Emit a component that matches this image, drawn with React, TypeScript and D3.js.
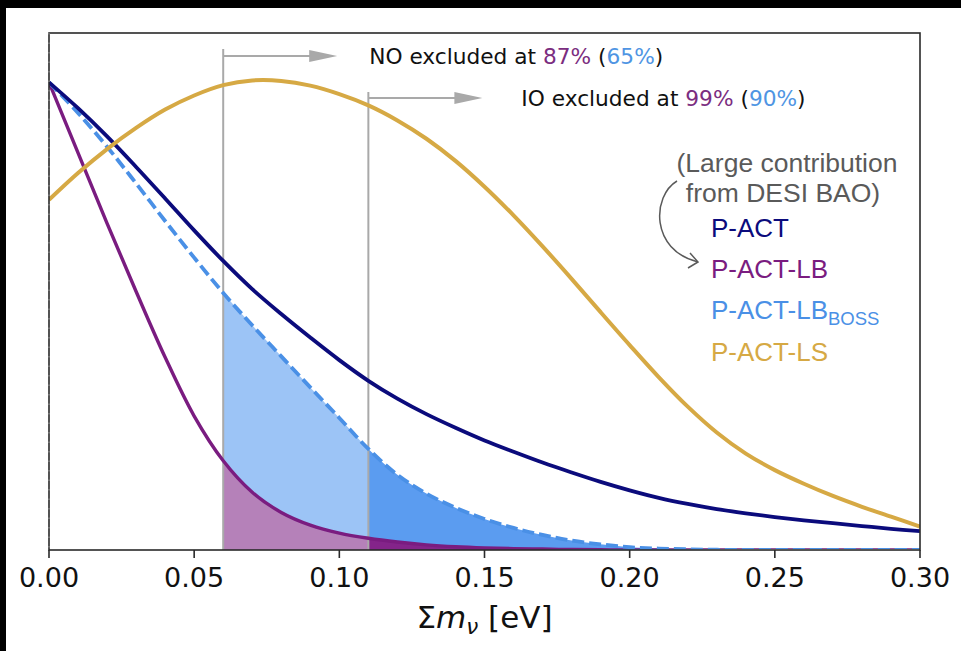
import React from 'react';
import * as d3 from 'd3';

const W = 961;
const H = 651;

// Posterior curves of the summed neutrino mass, sampled every 0.01 eV
const massEv = [
  0.0, 0.01, 0.02, 0.03, 0.04, 0.05, 0.06, 0.07, 0.08, 0.09, 0.1,
  0.11, 0.12, 0.13, 0.14, 0.15, 0.16, 0.17, 0.18, 0.19, 0.2,
  0.21, 0.22, 0.23, 0.24, 0.25, 0.26, 0.27, 0.28, 0.29, 0.3,
];
const pAct = [
  0.995, 0.94, 0.88, 0.815, 0.748, 0.68, 0.615, 0.555, 0.502, 0.452, 0.404,
  0.36, 0.322, 0.289, 0.26, 0.233, 0.209, 0.186, 0.165, 0.145, 0.127,
  0.111, 0.098, 0.087, 0.078, 0.07, 0.063, 0.057, 0.051, 0.045, 0.04,
];
const pActLb = [
  0.995, 0.845, 0.695, 0.55, 0.41, 0.285, 0.19, 0.123, 0.08, 0.053, 0.036,
  0.025, 0.017, 0.011, 0.007, 0.0045, 0.003, 0.002, 0.001, 0.0005, 0,
  0, 0, 0, 0, 0, 0, 0, 0, 0, 0,
];
const pActLbBoss = [
  0.995, 0.93, 0.858, 0.78, 0.7, 0.622, 0.547, 0.478, 0.412, 0.346, 0.281,
  0.215, 0.16, 0.12, 0.09, 0.066, 0.047, 0.032, 0.02, 0.012, 0.006,
  0.003, 0.0015, 0.0005, 0, 0, 0, 0, 0, 0, 0,
];
const pActLs = [
  0.745, 0.802, 0.853, 0.898, 0.937, 0.967, 0.989, 0.999, 0.998, 0.988, 0.97,
  0.946, 0.914, 0.875, 0.828, 0.773, 0.712, 0.646, 0.577, 0.506, 0.436,
  0.368, 0.305, 0.25, 0.205, 0.17, 0.141, 0.115, 0.092, 0.071, 0.05,
];

const xTicks = [0, 0.05, 0.1, 0.15, 0.2, 0.25, 0.3];

// Minimal summed masses of the normal and inverted orderings
const orderings = [
  { name: 'NO', mass: 0.06, lb: '87%', boss: '65%' },
  { name: 'IO', mass: 0.11, lb: '99%', boss: '90%' },
];

const legendNames = ['P-ACT', 'P-ACT-LB', 'P-ACT-LB', 'P-ACT-LS'];

const C = {
  navy: '#0b0b7c',
  purple: '#7a1c80',
  blue: '#4a90e6',
  gold: '#d6a944',
  lightBlue: '#9cc4f6',
  midBlue: '#5b9cf0',
  lightPurple: '#b581b9',
  darkPurple: '#84248a',
  grey: '#a9a9a9',
  note: '#5a5a5a',
  pctPurple: '#7b2d80',
  pctBlue: '#4f95e3',
};

const plot = { left: 49, right: 920, top: 33, bottom: 550 };

export default function App() {
  const x = d3.scaleLinear().domain([0, 0.3]).range([plot.left, plot.right]);
  const y = d3.scaleLinear().domain([0, 1.1]).range([plot.bottom, plot.top]);

  const pts = (vals: number[]) => massEv.map((m, i) => [m, vals[i]] as [number, number]);

  const curve = d3.curveCatmullRom.alpha(0.5);
  const line = d3
    .line<[number, number]>()
    .x((d) => x(d[0]))
    .y((d) => y(d[1]))
    .curve(curve);
  const area = d3
    .area<[number, number]>()
    .x((d) => x(d[0]))
    .y0(y(0))
    .y1((d) => y(d[1]))
    .curve(curve);

  const xNO = x(orderings[0].mass);
  const xIO = x(orderings[1].mass);

  const fontDejaVu = 'DejaVu Sans, sans-serif';
  const fontArial = 'Liberation Sans, Arial, sans-serif';

  return (
    <div style={{ position: 'fixed', left: 0, top: 0 }}>
      <svg width={W} height={H} style={{ display: 'block' }}>
        <defs>
          <clipPath id="clipNO">
            <rect x={xNO} y={plot.top} width={xIO - xNO} height={plot.bottom - plot.top} />
          </clipPath>
          <clipPath id="clipIO">
            <rect x={xIO} y={plot.top} width={plot.right - xIO} height={plot.bottom - plot.top} />
          </clipPath>
          <clipPath id="clipPlot">
            <rect x={plot.left} y={plot.top - 5} width={plot.right - plot.left} height={plot.bottom - plot.top + 4} />
          </clipPath>
        </defs>
        <rect x={0} y={0} width={W} height={H} fill="#000" />
        <rect x={6} y={8} width={W - 6} height={H - 8} fill="#fff" />

        {/* excluded mass ranges */}
        <path d={area(pts(pActLbBoss)) || ''} fill={C.lightBlue} clipPath="url(#clipNO)" />
        <path d={area(pts(pActLbBoss)) || ''} fill={C.midBlue} clipPath="url(#clipIO)" />
        <path d={area(pts(pActLb)) || ''} fill={C.lightPurple} clipPath="url(#clipNO)" />
        <path d={area(pts(pActLb)) || ''} fill={C.darkPurple} clipPath="url(#clipIO)" />

        {/* ordering thresholds */}
        {orderings.map((o, i) => {
          const xv = x(o.mass);
          const yTop = i === 0 ? 49 : 92;
          const yArrow = i === 0 ? 56 : 98;
          const tip = xv + 114;
          return (
            <g key={o.name}>
              <line x1={xv} x2={xv} y1={yTop} y2={plot.bottom} stroke={C.grey} strokeWidth={2} />
              <line x1={xv} x2={tip - 26} y1={yArrow} y2={yArrow} stroke={C.grey} strokeWidth={2} />
              <path
                d={`M${tip - 28},${yArrow - 6} L${tip},${yArrow} L${tip - 28},${yArrow + 6} Z`}
                fill={C.grey}
              />
              <text
                x={tip + (i === 0 ? 32 : 39)}
                y={yArrow + 8}
                fontFamily={fontDejaVu}
                fontSize={21.7}
                fill="#111"
              >
                {o.name} excluded at <tspan fill={C.pctPurple}>{o.lb}</tspan> (
                <tspan fill={C.pctBlue}>{o.boss}</tspan>)
              </text>
            </g>
          );
        })}

        {/* curves */}
        <g clipPath="url(#clipPlot)" fill="none" strokeLinecap="butt" strokeLinejoin="round">
          <path d={line(pts(pActLb)) || ''} stroke={C.purple} strokeWidth={3.4} />
          <path d={line(pts(pActLbBoss)) || ''} stroke={C.blue} strokeWidth={3.8} strokeDasharray="12 5" />
          <path d={line(pts(pAct)) || ''} stroke={C.navy} strokeWidth={3.8} />
          <path d={line(pts(pActLs)) || ''} stroke={C.gold} strokeWidth={4} />
        </g>

        {/* frame */}
        <rect
          x={plot.left}
          y={plot.top}
          width={plot.right - plot.left}
          height={plot.bottom - plot.top}
          fill="none"
          stroke="#2a2a2a"
          strokeWidth={1.6}
        />
        <line
          x1={plot.left}
          x2={plot.left}
          y1={plot.top}
          y2={plot.bottom}
          stroke="#9a9a9a"
          strokeWidth={1}
          strokeDasharray="1.5 8"
        />

        {/* x axis */}
        {xTicks.map((t) => (
          <g key={t}>
            <line x1={x(t)} x2={x(t)} y1={plot.bottom} y2={plot.bottom + 8} stroke="#2a2a2a" strokeWidth={1.6} />
            <text
              x={x(t)}
              y={587}
              textAnchor="middle"
              fontFamily={fontDejaVu}
              fontSize={27}
              fill="#111"
            >
              {d3.format('.2f')(t)}
            </text>
          </g>
        ))}
        <text x={(plot.left + plot.right) / 2} y={628} textAnchor="middle" fontFamily={fontDejaVu} fontSize={31} fill="#111">
          Σ<tspan fontStyle="italic">m</tspan>
          <tspan fontStyle="italic" fontSize={21.5} dy={6}>ν</tspan>
          <tspan dy={-6}> [eV]</tspan>
        </text>

        {/* legend */}
        <g fontFamily={fontArial}>
          <text x={787} y={172} textAnchor="middle" fontSize={26.5} fill={C.note}>
            (Large contribution
          </text>
          <text x={783} y={202} textAnchor="middle" fontSize={26.5} fill={C.note}>
            from DESI BAO)
          </text>
          <path
            d="M677,181 C652,196 650,250 698,262"
            fill="none"
            stroke={C.note}
            strokeWidth={1.5}
          />
          <path d="M690,253 L698,262 L688,268" fill="none" stroke={C.note} strokeWidth={1.5} />
          <text x={711} y={237} fontSize={26} fill={C.navy}>
            {legendNames[0]}
          </text>
          <text x={711} y={278} fontSize={26} fill={C.purple}>
            {legendNames[1]}
          </text>
          <text x={711} y={319} fontSize={26} fill={C.blue}>
            {legendNames[2]}
            <tspan fontSize={18.5} dy={6}>BOSS</tspan>
          </text>
          <text x={711} y={361} fontSize={26} fill={C.gold}>
            {legendNames[3]}
          </text>
        </g>
      </svg>
    </div>
  );
}
